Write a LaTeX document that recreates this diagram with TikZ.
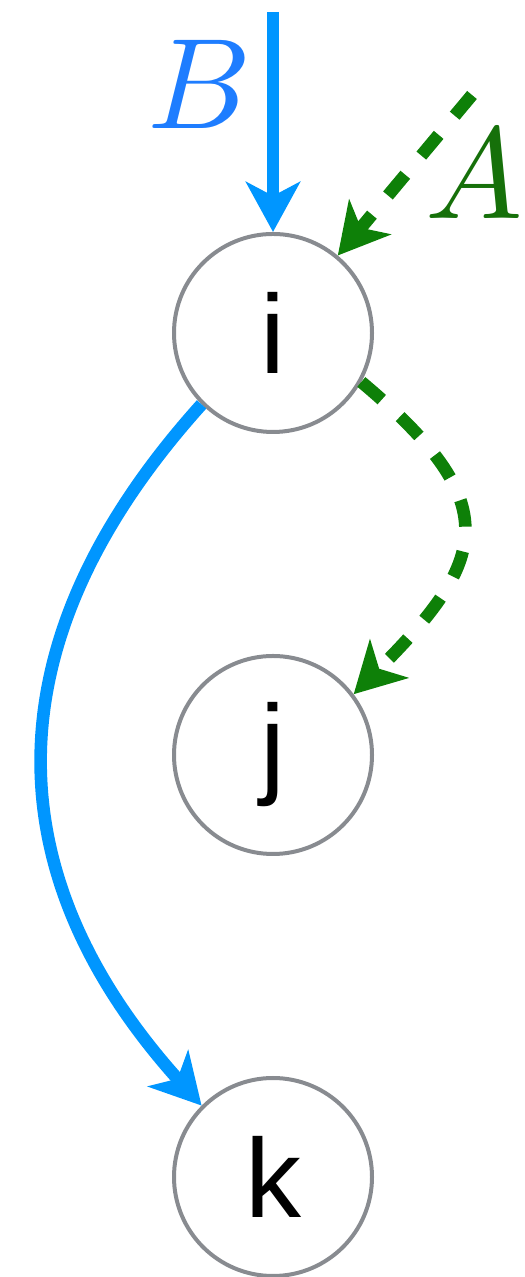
\documentclass[tikz,border=0pt]{standalone}
\usepackage{fontspec}
\setsansfont{Liberation Sans}
\usetikzlibrary{arrows.meta, positioning}
\definecolor{bl}{RGB}{0, 150, 255}
\definecolor{bl2}{RGB}{30, 125, 255}
\definecolor{gr}{RGB}{14, 128, 8}
\definecolor{gr2}{RGB}{22, 112, 10}
\definecolor{gy}{RGB}{136, 139, 144}
\begin{document}
\begin{tikzpicture}[x=0.5pt, y=0.5pt,
	vertex/.style={circle, draw=gy, line width=2pt, minimum size=99pt, inner sep=0pt, font=\sffamily\fontsize{56}{56}\selectfont},
	bluearrow/.style={draw=bl, line width=6.3pt, -{Stealth[length=25pt, width=27pt, inset=7pt]}},
	greenarrow/.style={draw=gr, line width=6.3pt, dash pattern=on 13.5pt off 12.5pt, -{Stealth[length=25pt, width=27pt, inset=7pt]}}
	]
	\useasboundingbox (0, 0) rectangle (524, 1277);
	
	\node[vertex] (i) at (273, 944) {i};
	\node[vertex] (j) at (273, 522) {j};
	\node[vertex] (k) at (273, 100) {k};
	
	\coordinate (bstart) at (273, 1265);
	\coordinate (astart) at (472, 1182);
	
	\node[text=bl2, inner sep=0pt] (blab) at (200, 1193) {\scalebox{6.45}{$B$}};
	\node[text=gr2, inner sep=0pt] (alab) at (474, 1103) {\scalebox{6.5}{$A$}};
	
	\draw[bluearrow] (bstart) -- (i);
	\draw[greenarrow] (astart) -- (i);
	
	\draw[greenarrow] (i.-29) .. controls +(-40:190) and +(45:190) .. (j.37);
	\draw[bluearrow] (i.225) .. controls +(228:315) and +(132:315) .. (k.135);
\end{tikzpicture}
\end{document}
